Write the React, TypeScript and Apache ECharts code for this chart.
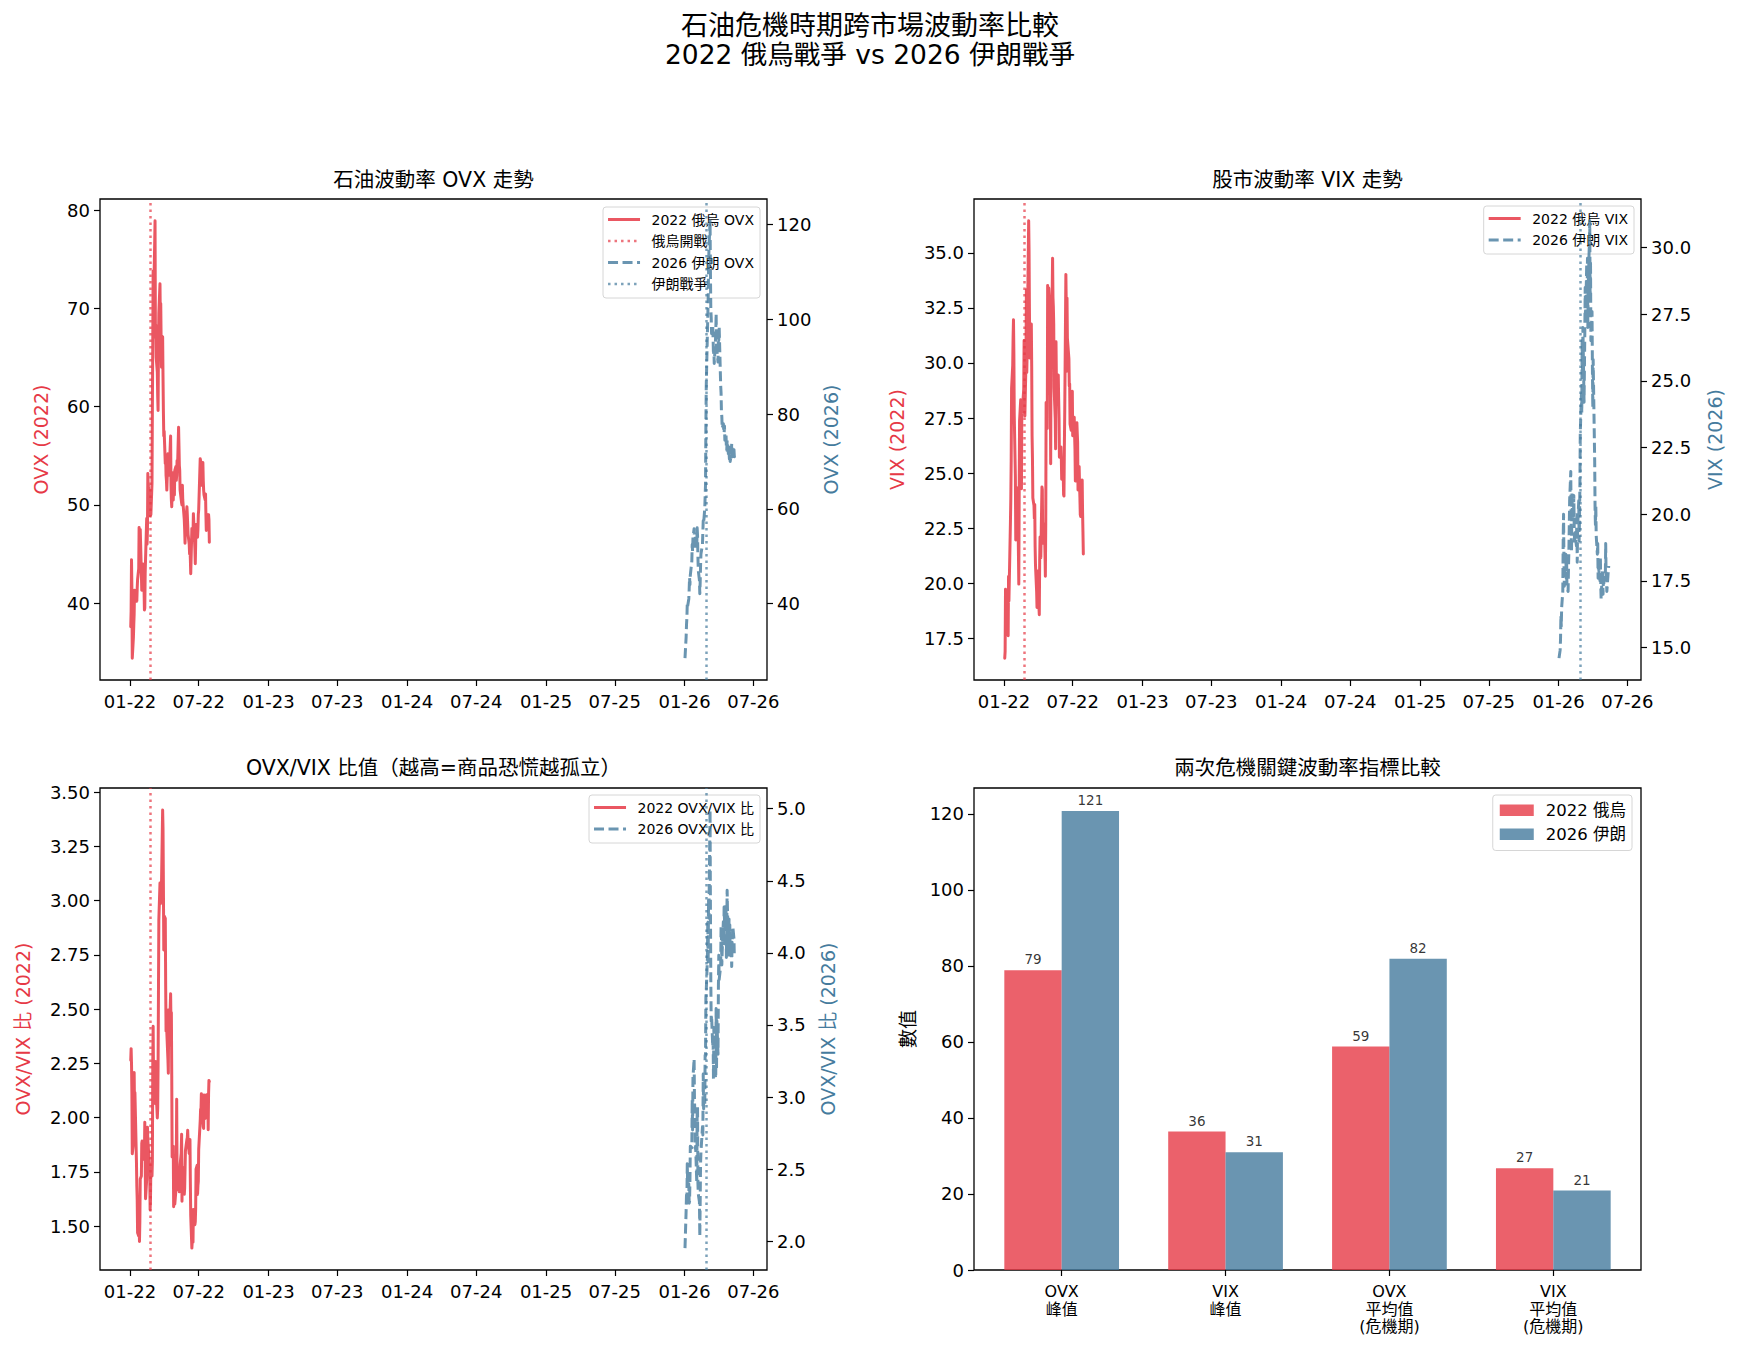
import React, { useEffect, useRef } from "react";
import * as echarts from "echarts";

// ---------- data ----------
const DATES_2022 = [
  "2022-01-03", "2022-01-04", "2022-01-05", "2022-01-06", "2022-01-07",
  "2022-01-10", "2022-01-11", "2022-01-12", "2022-01-13", "2022-01-14",
  "2022-01-18", "2022-01-19", "2022-01-20", "2022-01-21",
  "2022-01-24", "2022-01-25", "2022-01-26", "2022-01-27", "2022-01-28",
  "2022-01-31", "2022-02-01", "2022-02-02", "2022-02-03", "2022-02-04",
  "2022-02-07", "2022-02-08", "2022-02-09", "2022-02-10", "2022-02-11",
  "2022-02-14", "2022-02-15", "2022-02-16", "2022-02-17", "2022-02-18",
  "2022-02-22", "2022-02-23", "2022-02-24", "2022-02-25",
  "2022-02-28", "2022-03-01", "2022-03-02", "2022-03-03", "2022-03-04",
  "2022-03-07", "2022-03-08", "2022-03-09", "2022-03-10", "2022-03-11",
  "2022-03-14", "2022-03-15", "2022-03-16", "2022-03-17", "2022-03-18",
  "2022-03-21", "2022-03-22", "2022-03-23", "2022-03-24", "2022-03-25",
  "2022-03-28", "2022-03-29", "2022-03-30", "2022-03-31", "2022-04-01",
  "2022-04-04", "2022-04-05", "2022-04-06", "2022-04-07", "2022-04-08",
  "2022-04-11", "2022-04-12", "2022-04-13", "2022-04-14",
  "2022-04-18", "2022-04-19", "2022-04-20", "2022-04-21", "2022-04-22",
  "2022-04-25", "2022-04-26", "2022-04-27", "2022-04-28", "2022-04-29",
  "2022-05-02", "2022-05-03", "2022-05-04", "2022-05-05", "2022-05-06",
  "2022-05-09", "2022-05-10", "2022-05-11", "2022-05-12", "2022-05-13",
  "2022-05-16", "2022-05-17", "2022-05-18", "2022-05-19", "2022-05-20",
  "2022-05-23", "2022-05-24", "2022-05-25", "2022-05-26", "2022-05-27",
  "2022-05-31", "2022-06-01", "2022-06-02", "2022-06-03",
  "2022-06-06", "2022-06-07", "2022-06-08", "2022-06-09", "2022-06-10",
  "2022-06-13", "2022-06-14", "2022-06-15", "2022-06-16", "2022-06-17",
  "2022-06-21", "2022-06-22", "2022-06-23", "2022-06-24",
  "2022-06-27", "2022-06-28", "2022-06-29", "2022-06-30", "2022-07-01",
  "2022-07-05", "2022-07-06", "2022-07-07", "2022-07-08",
  "2022-07-11", "2022-07-12", "2022-07-13", "2022-07-14", "2022-07-15",
  "2022-07-18", "2022-07-19", "2022-07-20", "2022-07-21", "2022-07-22",
  "2022-07-25", "2022-07-26", "2022-07-27", "2022-07-28", "2022-07-29",
];

const OVX_2022 = [
  37.6, 39.2, 44.4, 41.5, 34.4,
  36.5, 37.8, 38.9, 41.3, 40.6,
  41.0, 40.2, 41.5, 42.4,
  43.5, 47.7, 45.7, 46.5, 47.5,
  43.0, 41.3, 41.8, 44.0, 43.2,
  41.5, 39.3, 39.5, 43.0, 44.5,
  48.6, 46.0, 47.5, 53.2, 52.0,
  50.5, 48.9, 49.1, 49.0,
  52.2, 60.0, 66.5, 73.8, 70.0,
  76.5, 78.9, 67.0, 68.3, 65.0,
  63.5, 61.0, 59.6, 66.0, 69.5,
  72.5, 68.5, 70.5, 66.8, 64.0,
  67.1, 63.0, 59.5, 57.0, 57.5,
  54.2, 54.8, 53.0, 52.5, 51.5,
  55.2, 53.5, 54.5, 53.0,
  57.0, 52.0, 50.5, 49.8, 51.3,
  50.5, 53.3, 52.5, 51.0, 53.5,
  53.9, 52.5, 53.0, 54.5, 53.5,
  57.9, 56.0, 54.0, 53.5, 51.5,
  50.5, 50.2, 50.0, 52.0, 50.5,
  49.0, 48.5, 47.5, 46.1, 47.5,
  49.8, 49.0, 48.0, 47.0,
  46.0, 45.0, 45.5, 44.5, 43.0,
  47.6, 46.8, 46.5, 47.0, 49.1,
  45.5, 44.0, 46.0, 48.0,
  48.0, 46.7, 47.5, 49.0, 49.5,
  54.7, 54.5, 53.0, 52.0,
  54.0, 54.3, 52.5, 51.5, 51.0,
  50.5, 51.1, 49.0, 47.4, 48.5,
  49.0, 48.0, 49.0, 48.5, 46.2,
];

const VIX_2022 = [
  16.60, 16.91, 19.73, 19.61, 18.76,
  19.40, 18.41, 17.62, 20.31, 19.19,
  22.79, 23.85, 25.59, 28.85,
  29.90, 31.16, 31.96, 30.49, 27.66,
  24.83, 21.96, 22.09, 24.35, 23.22,
  22.86, 21.44, 19.96, 23.91, 27.36,
  28.33, 25.70, 24.29, 28.11, 27.75,
  28.81, 31.02, 30.32, 27.59,
  30.15, 33.32, 29.57, 30.48, 31.98,
  36.45, 35.13, 32.45, 30.23, 30.75,
  31.77, 29.83, 26.67, 25.67, 23.87,
  23.53, 22.94, 23.57, 21.67, 20.81,
  19.63, 18.90, 19.33, 20.56, 19.63,
  18.57, 21.03, 22.10, 21.55, 21.16,
  24.37, 24.26, 21.82, 22.70,
  22.17, 21.37, 20.32, 22.68, 28.21,
  27.02, 33.52, 31.60, 29.99, 33.40,
  32.34, 29.25, 25.42, 31.20, 30.19,
  34.75, 32.99, 32.56, 31.77, 28.87,
  27.47, 26.10, 30.96, 29.35, 29.43,
  28.48, 29.45, 28.37, 27.50, 25.72,
  26.19, 25.69, 24.72, 24.79,
  25.07, 24.02, 23.96, 26.09, 27.75,
  34.02, 32.69, 29.62, 32.95, 31.13,
  30.19, 28.95, 29.05, 27.23,
  26.95, 28.36, 28.16, 28.71, 26.70,
  27.54, 26.73, 26.08, 24.64,
  26.17, 27.29, 26.82, 26.40, 24.23,
  25.30, 24.50, 23.88, 23.11, 23.03,
  23.36, 24.69, 23.24, 22.33, 21.33,
];

const DATES_2026 = [
  "2026-01-02",
  "2026-01-05", "2026-01-06", "2026-01-07", "2026-01-08", "2026-01-09",
  "2026-01-12", "2026-01-13", "2026-01-14", "2026-01-15", "2026-01-16",
  "2026-01-20", "2026-01-21", "2026-01-22", "2026-01-23",
  "2026-01-26", "2026-01-27", "2026-01-28", "2026-01-29", "2026-01-30",
  "2026-02-02", "2026-02-03", "2026-02-04", "2026-02-05", "2026-02-06",
  "2026-02-09", "2026-02-10", "2026-02-11", "2026-02-12", "2026-02-13",
  "2026-02-17", "2026-02-18", "2026-02-19", "2026-02-20",
  "2026-02-23", "2026-02-24", "2026-02-25", "2026-02-26", "2026-02-27",
  "2026-03-02", "2026-03-03", "2026-03-04", "2026-03-05", "2026-03-06",
  "2026-03-09", "2026-03-10", "2026-03-11", "2026-03-12", "2026-03-13",
  "2026-03-16", "2026-03-17", "2026-03-18", "2026-03-19", "2026-03-20",
  "2026-03-23", "2026-03-24", "2026-03-25", "2026-03-26", "2026-03-27",
  "2026-03-30", "2026-03-31", "2026-04-01", "2026-04-02",
  "2026-04-06", "2026-04-07", "2026-04-08", "2026-04-09", "2026-04-10",
  "2026-04-13", "2026-04-14", "2026-04-15", "2026-04-16", "2026-04-17",
  "2026-04-20", "2026-04-21", "2026-04-22", "2026-04-23", "2026-04-24",
  "2026-04-27", "2026-04-28", "2026-04-29", "2026-04-30", "2026-05-01",
  "2026-05-04", "2026-05-05", "2026-05-06", "2026-05-07", "2026-05-08",
  "2026-05-11", "2026-05-12", "2026-05-13",
];

const OVX_2026 = [
  28.5,
  33.0, 35.6, 37.0, 40.1, 39.5,
  41.0, 43.0, 45.5, 44.0, 46.0,
  49.0, 52.5, 51.0, 54.0,
  55.8, 53.5, 53.8, 51.5, 54.5,
  52.0, 56.0, 54.5, 50.0, 47.0,
  45.0, 42.1, 44.5, 48.0, 50.5,
  52.5, 55.0, 57.5, 56.9,
  60.0, 62.5, 65.0, 77.5, 86.0,
  97.0, 100.5, 104.0, 110.0, 114.5,
  120.8, 110.0, 102.0, 100.5, 97.0,
  98.5, 96.0, 92.5, 94.0, 90.7,
  95.0, 97.0, 101.2, 94.0, 93.5,
  91.0, 96.0, 95.6, 98.4,
  86.0, 84.5, 80.5, 79.5, 77.0,
  78.0, 76.6, 76.0, 77.5, 74.5,
  75.9, 73.0, 72.4, 74.5, 73.8,
  71.0, 72.0, 70.5, 73.0, 70.0,
  71.5, 73.8, 72.5, 71.0, 71.5,
  72.5, 71.0, 71.7,
];

const VIX_2026 = [
  14.6,
  14.9, 15.3, 16.2, 15.8, 16.5,
  17.1, 19.0, 20.0, 18.2, 17.3,
  18.5, 17.6, 18.4, 17.2,
  17.1, 18.0, 18.6, 19.5, 20.5,
  21.6, 19.4, 18.6, 20.8, 20.2,
  19.8, 20.7, 19.6, 18.9, 19.3,
  18.8, 20.1, 18.2, 19.5,
  20.5, 19.0, 19.8, 21.0, 23.0,
  24.5, 23.8, 26.5, 25.2, 27.0,
  24.2, 25.5, 26.8, 28.5, 27.2,
  29.4, 28.0, 29.6, 27.0, 28.6,
  30.2, 31.0, 28.0, 29.5, 26.5,
  27.6, 25.5, 24.0, 25.8,
  22.0, 20.2, 19.6, 20.3, 19.2,
  18.5, 18.9, 17.6, 18.3, 17.9,
  17.5, 18.4, 17.3, 16.8, 17.2,
  17.9, 17.0, 17.7, 17.4, 17.5,
  17.6, 18.9, 17.8, 17.6, 17.1,
  17.7, 17.9, 18.06,
];

const WAR_2022 = "2022-02-24";
const WAR_2026 = "2026-02-26";
const X_RANGE = ["2021-10-14", "2026-08-06"];
const X_TICKS = [
  "2022-01-01", "2022-07-01", "2023-01-01", "2023-07-01", "2024-01-01",
  "2024-07-01", "2025-01-01", "2025-07-01", "2026-01-01", "2026-07-01",
];

const TICKS_OVX_2022 = [40, 50, 60, 70, 80];
const TICKS_OVX_2026 = [40, 60, 80, 100, 120];
const TICKS_VIX_2022 = [17.5, 20, 22.5, 25, 27.5, 30, 32.5, 35];
const TICKS_VIX_2026 = [15, 17.5, 20, 22.5, 25, 27.5, 30];
const TICKS_RATIO_2022 = [1.5, 1.75, 2, 2.25, 2.5, 2.75, 3, 3.25, 3.5];
const TICKS_RATIO_2026 = [2, 2.5, 3, 3.5, 4, 4.5, 5];

const BAR_CATEGORIES = ["OVX\n峰值", "VIX\n峰值", "OVX\n平均值\n(危機期)", "VIX\n平均值\n(危機期)"];
const BAR_2022 = [78.9, 36.45, 58.8, 26.8];
const BAR_2026 = [120.8, 31.0, 81.9, 20.9];
const BAR_TICKS = [0, 20, 40, 60, 80, 100, 120];

// ---------- styling ----------
const FONT = "'DejaVu Sans', 'Noto Sans CJK TC', sans-serif";
const RED = "#E63946";
const BLUE = "#457B9D";
const TICK_FS = 18;
const NAME_FS = 19;
const LEGEND_FS = 14;
const LINE_W = 3;
const DASH = [10, 4.5];
const DOT = [2.5, 4];

const W = 1740;
const H = 1353;
const GRIDS = [
  { left: 100, top: 199, width: 667, height: 481 },
  { left: 974, top: 199, width: 667, height: 481 },
  { left: 100, top: 788, width: 667, height: 482 },
  { left: 974, top: 788, width: 667, height: 482 },
];

const ts = (s: string) => Date.parse(s + "T00:00:00Z");
const padRange = (arr: number[]) => {
  const lo = Math.min(...arr);
  const hi = Math.max(...arr);
  const r = hi - lo;
  return [lo - 0.05 * r, hi + 0.05 * r];
};
const fmtDate = (v: number) => {
  const d = new Date(v);
  const m = String(d.getUTCMonth() + 1).padStart(2, "0");
  const y = String(d.getUTCFullYear() % 100).padStart(2, "0");
  return `${m}-${y}`;
};

let measureCtx: CanvasRenderingContext2D | null = null;
const textWidth = (t: string, size: number) => {
  if (!measureCtx) measureCtx = document.createElement("canvas").getContext("2d");
  measureCtx!.font = `${size}px ${FONT}`;
  return measureCtx!.measureText(t).width;
};

type LegendEntry = { label: string; color: string; dash?: number[]; width: number; opacity: number; patch?: boolean };

function legendBox(right: number, top: number, entries: LegendEntry[], fs: number, rowH: number, firstRow: number, lastPad: number, handleLen: number, handleGap: number, z: number) {
  const padL = 5;
  const padR = 6;
  const tw = Math.max(...entries.map((e) => textWidth(e.label, fs)));
  const w = padL + handleLen + handleGap + tw + padR;
  const h = firstRow + rowH * (entries.length - 1) + lastPad;
  const x0 = right - w;
  const children: any[] = [
    {
      type: "rect",
      shape: { x: x0, y: top, width: w, height: h, r: 3 },
      style: { fill: "rgba(255,255,255,0.8)", stroke: "#d6d6d6", lineWidth: 1 },
      z,
    },
  ];
  entries.forEach((e, i) => {
    const cy = top + firstRow + i * rowH;
    if (e.patch) {
      children.push({
        type: "rect",
        shape: { x: x0 + padL + 2, y: cy - 6, width: handleLen, height: 11.5 },
        style: { fill: e.color, opacity: e.opacity },
        z: z + 1,
      });
    } else {
      children.push({
        type: "line",
        shape: { x1: x0 + padL, y1: cy, x2: x0 + padL + handleLen, y2: cy },
        style: { stroke: e.color, lineWidth: e.width, lineDash: e.dash || null, opacity: e.opacity },
        z: z + 1,
      });
    }
    children.push({
      type: "text",
      x: x0 + padL + handleLen + handleGap,
      y: cy,
      style: { text: e.label, fill: "#000", font: `${fs}px ${FONT}`, align: "left", verticalAlign: "middle" },
      z: z + 1,
    });
  });
  return children;
}

function buildOption() {
  const xMin = ts(X_RANGE[0]);
  const xMax = ts(X_RANGE[1]);
  const xTicks = X_TICKS.map(ts);

  const RATIO_2022 = OVX_2022.map((v, i) => v / VIX_2022[i]);
  const RATIO_2026 = OVX_2026.map((v, i) => v / VIX_2026[i]);

  const pairs = (dates: string[], vals: number[]) => dates.map((d, i) => [ts(d), vals[i]]);

  const timeAxis = (gridIndex: number) => ({
    type: "value",
    gridIndex,
    min: xMin,
    max: xMax,
    splitLine: { show: false },
    axisLine: { show: false, onZero: false },
    axisTick: { show: true, length: 6, customValues: xTicks, lineStyle: { color: "#000", width: 1.2 } },
    axisLabel: { customValues: xTicks, formatter: fmtDate, fontSize: TICK_FS, fontFamily: FONT, color: "#000", margin: 12 },
  });

  const valueAxis = (
    gridIndex: number,
    position: "left" | "right",
    range: number[],
    ticks: number[],
    digits: number,
    name: string,
    nameColor: string,
    nameGap: number
  ) => ({
    type: "value",
    gridIndex,
    position,
    min: range[0],
    max: range[1],
    splitLine: { show: false },
    axisLine: { show: false, onZero: false },
    axisTick: { show: true, length: 6, customValues: ticks, lineStyle: { color: "#000", width: 1.2 } },
    axisLabel: {
      customValues: ticks,
      formatter: (v: number) => v.toFixed(digits),
      fontSize: TICK_FS,
      fontFamily: FONT,
      color: "#000",
      margin: 10,
    },
    name,
    nameLocation: "middle",
    nameRotate: 90,
    nameGap,
    nameTextStyle: { color: nameColor, fontSize: NAME_FS, fontFamily: FONT },
  });

  const warLine = (date: string, color: string) => ({
    silent: true,
    symbol: ["none", "none"],
    label: { show: false },
    lineStyle: { color, type: DOT, width: 2.5, opacity: 0.7 },
    data: [{ xAxis: ts(date) }],
  });

  const line2022 = (xi: number, yi: number, data: any[]) => ({
    type: "line",
    xAxisIndex: xi,
    yAxisIndex: yi,
    data,
    symbol: "none",
    showSymbol: false,
    z: 2,
    lineStyle: { color: RED, width: LINE_W, opacity: 0.85, join: "round", cap: "round" },
    markLine: warLine(WAR_2022, RED),
  });
  const line2026 = (xi: number, yi: number, data: any[]) => ({
    type: "line",
    xAxisIndex: xi,
    yAxisIndex: yi,
    data,
    symbol: "none",
    showSymbol: false,
    z: 5,
    lineStyle: { color: BLUE, width: LINE_W, opacity: 0.8, type: DASH, join: "round", cap: "butt" },
    markLine: warLine(WAR_2026, BLUE),
  });

  // bar panel geometry: value axis with matplotlib-like margins
  const barXMin = -0.535;
  const barXMax = 3.535;
  const barW = (GRIDS[3].width / (barXMax - barXMin)) * 0.35;
  const barData: any[] = [];
  BAR_2022.forEach((v, i) => barData.push({ value: [i - 0.175, v], itemStyle: { color: RED, opacity: 0.8 } }));
  BAR_2026.forEach((v, i) => barData.push({ value: [i + 0.175, v], itemStyle: { color: BLUE, opacity: 0.8 } }));
  const barMax = Math.max(...BAR_2022, ...BAR_2026) * 1.05;

  const gx = (g: any) => g.left + g.width / 2;
  const titleFont = `20.5px ${FONT}`;
  const titles = [
    { text: "石油波動率 OVX 走勢", x: gx(GRIDS[0]), y: 180 },
    { text: "股市波動率 VIX 走勢", x: gx(GRIDS[1]), y: 180 },
    { text: "OVX/VIX 比值（越高=商品恐慌越孤立）", x: gx(GRIDS[2]), y: 768 },
    { text: "兩次危機關鍵波動率指標比較", x: gx(GRIDS[3]), y: 768 },
  ];

  const graphics: any[] = [
    {
      type: "text",
      x: W / 2,
      y: 25.5,
      style: { text: "石油危機時期跨市場波動率比較", fill: "#000", font: `27px ${FONT}`, align: "center", verticalAlign: "middle" },
    },
    {
      type: "text",
      x: W / 2,
      y: 54.5,
      style: { text: "2022 俄烏戰爭 vs 2026 伊朗戰爭", fill: "#000", font: `26.5px ${FONT}`, align: "center", verticalAlign: "middle" },
    },
    ...titles.map((t) => ({
      type: "text",
      x: t.x,
      y: t.y,
      style: { text: t.text, fill: "#000", font: titleFont, align: "center", verticalAlign: "middle" },
    })),
  ];

  const g0 = GRIDS[0];
  const g1 = GRIDS[1];
  const g2 = GRIDS[2];
  const g3 = GRIDS[3];
  const redSolid = { color: RED, width: LINE_W, opacity: 0.85 };
  const blueDash = { color: BLUE, width: LINE_W, opacity: 0.8, dash: DASH };
  const redDot = { color: RED, width: 2.5, opacity: 0.7, dash: DOT };
  const blueDot = { color: BLUE, width: 2.5, opacity: 0.7, dash: DOT };

  graphics.push(
    ...legendBox(g0.left + g0.width - 7, g0.top + 8, [
      { label: "2022 俄烏 OVX", ...redSolid },
      { label: "俄烏開戰", ...redDot },
      { label: "2026 伊朗 OVX", ...blueDash },
      { label: "伊朗戰爭", ...blueDot },
    ], LEGEND_FS, 21.5, 12.5, 14, 32, 11.5, 3),
    ...legendBox(g1.left + g1.width - 7, g1.top + 7, [
      { label: "2022 俄烏 VIX", ...redSolid },
      { label: "2026 伊朗 VIX", ...blueDash },
    ], LEGEND_FS, 21.5, 12.5, 14, 32, 11.5, 3),
    ...legendBox(g2.left + g2.width - 7, g2.top + 7, [
      { label: "2022 OVX/VIX 比", ...redSolid },
      { label: "2026 OVX/VIX 比", ...blueDash },
    ], LEGEND_FS, 21.5, 12.5, 14, 32, 11.5, 3),
    ...legendBox(g3.left + g3.width - 9, g3.top + 7, [
      { label: "2022 俄烏", color: RED, width: 0, opacity: 0.8, patch: true },
      { label: "2026 伊朗", color: BLUE, width: 0, opacity: 0.8, patch: true },
    ], 16.5, 24, 15.5, 16, 34, 14, 3)
  );

  return {
    animation: false,
    backgroundColor: "#fff",
    textStyle: { fontFamily: FONT },
    grid: GRIDS.map((g) => ({ ...g, show: true, borderColor: "#000", borderWidth: 1.3, backgroundColor: "transparent", containLabel: false })),
    xAxis: [
      timeAxis(0),
      timeAxis(1),
      timeAxis(2),
      {
        type: "value",
        gridIndex: 3,
        min: barXMin,
        max: barXMax,
        splitLine: { show: false },
        axisLine: { show: false, onZero: false },
        axisTick: { show: true, length: 6, customValues: [0, 1, 2, 3], lineStyle: { color: "#000", width: 1.2 } },
        axisLabel: {
          customValues: [0, 1, 2, 3],
          formatter: (v: number) => BAR_CATEGORIES[Math.round(v)],
          fontSize: 16,
          lineHeight: 17.5,
          fontFamily: FONT,
          color: "#000",
          margin: 13,
        },
      },
    ],
    yAxis: [
      valueAxis(0, "left", padRange(OVX_2022), TICKS_OVX_2022, 0, "OVX (2022)", RED, 50),
      valueAxis(0, "right", padRange(OVX_2026), TICKS_OVX_2026, 0, "OVX (2026)", BLUE, 54),
      valueAxis(1, "left", padRange(VIX_2022), TICKS_VIX_2022, 1, "VIX (2022)", RED, 68),
      valueAxis(1, "right", padRange(VIX_2026), TICKS_VIX_2026, 1, "VIX (2026)", BLUE, 64),
      valueAxis(2, "left", padRange(RATIO_2022), TICKS_RATIO_2022, 2, "OVX/VIX 比 (2022)", RED, 68),
      valueAxis(2, "right", padRange(RATIO_2026), TICKS_RATIO_2026, 1, "OVX/VIX 比 (2026)", BLUE, 51),
      valueAxis(3, "left", [0, barMax], BAR_TICKS, 0, "數值", "#000", 57),
    ],
    series: [
      line2022(0, 0, pairs(DATES_2022, OVX_2022)),
      line2026(0, 1, pairs(DATES_2026, OVX_2026)),
      line2022(1, 2, pairs(DATES_2022, VIX_2022)),
      line2026(1, 3, pairs(DATES_2026, VIX_2026)),
      line2022(2, 4, pairs(DATES_2022, RATIO_2022)),
      line2026(2, 5, pairs(DATES_2026, RATIO_2026)),
      {
        type: "bar",
        xAxisIndex: 3,
        yAxisIndex: 6,
        barWidth: barW,
        data: barData,
        label: {
          show: true,
          position: "top",
          distance: 4,
          fontSize: 13.5,
          fontFamily: FONT,
          color: "#000",
          formatter: (p: any) => String(Math.round(p.value[1])),
        },
      },
    ],
    graphic: { elements: graphics },
  };
}

export default function App() {
  const ref = useRef<HTMLDivElement>(null);
  useEffect(() => {
    document.body.style.margin = "0";
    const chart = echarts.init(ref.current!, undefined, { renderer: "svg" });
    chart.setOption(buildOption() as any);
    return () => chart.dispose();
  }, []);
  return <div ref={ref} style={{ position: "absolute", left: 0, top: 0, width: W, height: H, background: "#fff" }} />;
}
